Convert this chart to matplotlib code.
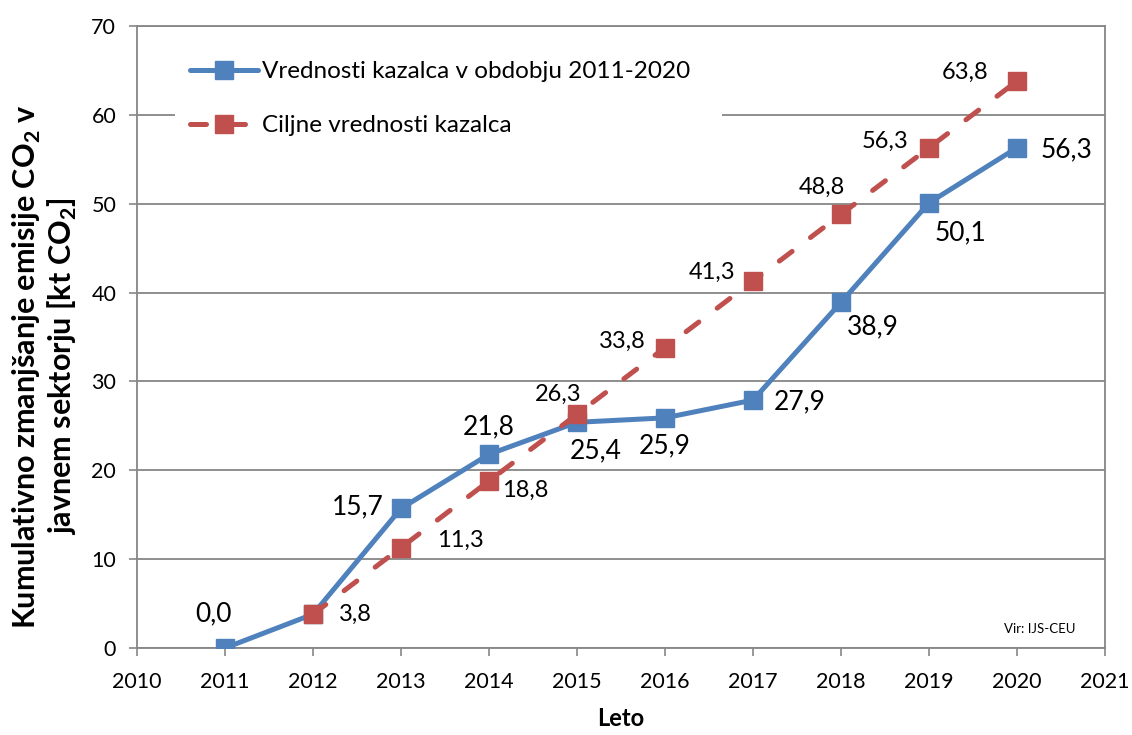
import matplotlib
matplotlib.use("Agg")
import matplotlib.pyplot as plt
from matplotlib.patches import Rectangle

plt.rcParams['font.family'] = ['Lato', 'DejaVu Sans']
plt.rcParams['mathtext.fontset'] = 'custom'
plt.rcParams['mathtext.rm'] = 'Lato'
plt.rcParams['mathtext.bf'] = 'Lato:bold'

years = [2011, 2012, 2013, 2014, 2015, 2016, 2017, 2018, 2019, 2020]
actual = [0.0, 3.8, 15.7, 21.8, 25.4, 25.9, 27.9, 38.9, 50.1, 56.3]
target_years = [2012, 2013, 2014, 2015, 2016, 2017, 2018, 2019, 2020]
target = [3.8, 11.3, 18.8, 26.3, 33.8, 41.3, 48.8, 56.3, 63.8]
labels = ["Vrednosti kazalca v obdobju 2011-2020", "Ciljne vrednosti kazalca"]
xticks = list(range(2010, 2022))
yticks = list(range(0, 71, 10))

# label offsets in pixels
actual_off = [(-12, 34), None, (-43, 2), (0, 27), (19, -29), (0, -28), (47, -2), (32, -24), (31, -30), (50, -2)]
target_off = [(42, 0), (59, 7), (36, -9), (-19, 20), (-43, 6), (-41, 9), (-19, 27), (-44, 6), (-52, 9)]

blue = '#4F81BD'
red = '#C0504D'
grid = '#868686'

fig = plt.figure(figsize=(11.32, 7.35), dpi=100)
ax = fig.add_axes([137/1132, 1-648/735, (1105-137)/1132, (648-26)/735])

ax.plot(years, actual, color=blue, lw=3.6, marker='s', ms=12.5, mfc=blue, mec=blue,
        label=labels[0], zorder=3, solid_capstyle='round')
ax.plot(target_years, target, color=red, lw=3.6, marker='s', ms=12.5, mfc=red, mec=red,
        dashes=(3.2, 4.6), dash_capstyle='round', label=labels[1], zorder=4)

def fmt(v):
    return f"{v:.1f}".replace('.', ',')

for x, v, off in zip(years, actual, actual_off):
    if off is None:
        continue
    ax.annotate(fmt(v), (x, v), xytext=off, textcoords='offset pixels',
                ha='center', va='center', fontsize=19, color='black', zorder=6)
for x, v, off in zip(target_years, target, target_off):
    ax.annotate(fmt(v), (x, v), xytext=off, textcoords='offset pixels',
                ha='center', va='center', fontsize=17, color='black', zorder=6)

ax.set_xlim(2010, 2021)
ax.set_ylim(0, 70)
ax.set_xticks(xticks)
ax.set_yticks(yticks)
ax.tick_params(axis='both', labelsize=15.5, length=6, width=1.2, color=grid, direction='out')
ax.tick_params(axis='x', pad=11)
ax.tick_params(axis='y', pad=9)
ax.yaxis.grid(True, color=grid, lw=1.3)
ax.set_axisbelow(True)
for s in ax.spines.values():
    s.set_color(grid)
    s.set_linewidth(1.3)

ax.set_xlabel('Leto', fontsize=17, fontweight='bold', labelpad=11)
ax.set_ylabel('Kumulativno zmanjšanje emisije CO$_\\mathbf{2}$ v\njavnem sektorju [kt CO$_\\mathbf{2}$]',
              fontsize=22, fontweight='bold', linespacing=1.1)
ax.yaxis.set_label_coords(-0.060, 0.453)

# white legend background box (covers gridlines like the reference)
ax.add_patch(Rectangle((0.039, 0.81), 0.565, 0.165, transform=ax.transAxes,
                       facecolor='white', edgecolor='none', zorder=2))

leg = ax.legend(loc='upper left', bbox_to_anchor=(0.055, 0.943), fontsize=17.5,
                frameon=False, handlelength=2.8, labelspacing=1.35,
                borderpad=0.0, borderaxespad=0.0, handletextpad=0.15)
leg.set_zorder(5)

ax.text(0.933, 0.031, 'Vir: IJS-CEU', transform=ax.transAxes, ha='center', va='center',
        fontsize=9.5, zorder=6)

fig.savefig('out.png', dpi=100)
